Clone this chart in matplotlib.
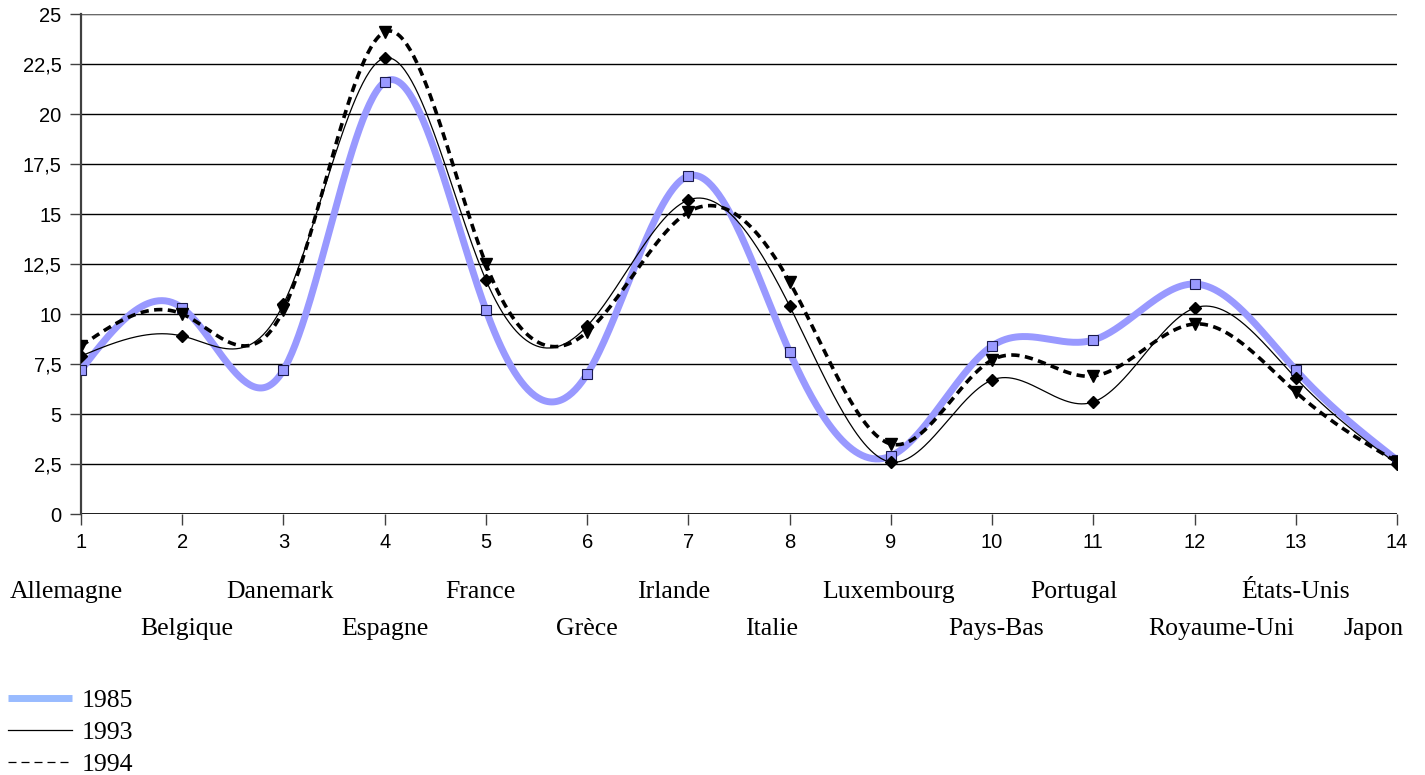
import numpy as np
import matplotlib
matplotlib.use("Agg")
import matplotlib.pyplot as plt
from matplotlib.lines import Line2D
from matplotlib.ticker import FuncFormatter, MultipleLocator

# ---------------- data ----------------
positions = list(range(1, 15))
countries = ["Allemagne", "Belgique", "Danemark", "Espagne", "France", "Grèce", "Irlande",
             "Italie", "Luxembourg", "Pays-Bas", "Portugal", "Royaume-Uni", "États-Unis", "Japon"]
series_labels = ["1985", "1993", "1994"]
values_1985 = [7.2, 10.3, 7.2, 21.6, 10.2, 7.0, 16.9, 8.1, 2.9, 8.4, 8.7, 11.5, 7.2, 2.7]
values_1993 = [7.9, 8.9, 10.5, 22.8, 11.7, 9.4, 15.7, 10.4, 2.6, 6.7, 5.6, 10.3, 6.8, 2.5]
values_1994 = [8.4, 10.0, 10.2, 24.1, 12.5, 9.1, 15.1, 11.6, 3.5, 7.7, 6.9, 9.5, 6.1, 2.6]

# label layout (horizontal nudge in px)
label_dx_px = [-15, 5, -3, 0, -6, 0, -15, -18, -2, 4, -19, 27, 0, -23]


def natural_spline(x, y, n=60):
    x = np.asarray(x, float)
    y = np.asarray(y, float)
    k = len(x)
    h = np.diff(x)
    A = np.zeros((k, k))
    b = np.zeros(k)
    A[0, 0] = 1
    A[-1, -1] = 1
    for i in range(1, k - 1):
        A[i, i - 1] = h[i - 1]
        A[i, i] = 2 * (h[i - 1] + h[i])
        A[i, i + 1] = h[i]
        b[i] = 6 * ((y[i + 1] - y[i]) / h[i] - (y[i] - y[i - 1]) / h[i - 1])
    M = np.linalg.solve(A, b)
    xs, ys = [], []
    for i in range(k - 1):
        t = np.linspace(x[i], x[i + 1], n, endpoint=(i == k - 2))
        a = x[i + 1] - t
        c = t - x[i]
        s = (M[i] * a ** 3 + M[i + 1] * c ** 3) / (6 * h[i]) \
            + (y[i] / h[i] - M[i] * h[i] / 6) * a \
            + (y[i + 1] / h[i] - M[i + 1] * h[i] / 6) * c
        xs.append(t)
        ys.append(s)
    return np.concatenate(xs), np.concatenate(ys)


W, H = 1425, 775
fig = plt.figure(figsize=(W / 100, H / 100), dpi=100)
ax = fig.add_axes([81 / W, 1 - 514 / H, 1316 / W, 500 / H])

blue = "#9999FF"

# 1985
sx, sy = natural_spline(positions, values_1985)
ax.plot(sx, sy, color=blue, lw=5, solid_capstyle="butt", zorder=3)
ax.plot(positions, values_1985, ls="none", marker="s", ms=6.8, mfc=blue,
        mec="#1a1a4d", mew=0.8, zorder=6)

# 1993
sx, sy = natural_spline(positions, values_1993)
ax.plot(sx, sy, color="black", lw=0.9, zorder=4)
ax.plot(positions, values_1993, ls="none", marker="D", ms=6, mfc="black",
        mec="black", zorder=7)

# 1994
sx, sy = natural_spline(positions, values_1994)
ax.plot(sx, sy, color="black", lw=2.6, ls=(0, (2.3, 1.5)), zorder=5)
ax.plot(positions, values_1994, ls="none", marker="v", ms=8.5, mfc="black",
        mec="black", zorder=8)

ax.set_xlim(1, 14)
ax.set_ylim(0, 25)
ax.set_xticks(positions)
ax.yaxis.set_major_locator(MultipleLocator(2.5))
ax.yaxis.set_major_formatter(FuncFormatter(lambda v, p: f"{v:g}".replace(".", ",")))

ax.grid(axis="y", color="black", lw=1.0, zorder=1)
ax.grid(axis="x", visible=False)
for s in ["top", "right", "bottom"]:
    ax.spines[s].set_visible(False)
ax.spines["left"].set_color("#404040")
ax.spines["left"].set_linewidth(1.6)
ax.axhline(0, color="black", lw=1.2, zorder=2)
ax.axhline(25, color="#808080", lw=1.2, zorder=2)
ax.tick_params(axis="both", direction="out", length=8, width=1, color="#404040",
               labelsize=14.5, pad=6)
for lab in ax.get_xticklabels() + ax.get_yticklabels():
    lab.set_fontfamily("Liberation Sans")

# country labels, two staggered rows
for i, (pos, name) in enumerate(zip(positions, countries)):
    row = i % 2
    dy_px = -84 if row == 0 else -121
    ax.annotate(name, xy=(pos, 0), xycoords=ax.get_xaxis_transform(),
                xytext=(label_dx_px[i] * 0.72, dy_px * 0.72), textcoords="offset points",
                ha="center", va="baseline", fontsize=18.5, family="Liberation Serif",
                annotation_clip=False)

# legend
handles = [
    Line2D([], [], color="#99BBFF", lw=5, solid_capstyle="butt"),
    Line2D([], [], color="black", lw=0.9),
    Line2D([], [], color="black", lw=0.9, ls=(0, (6.4, 4.0))),
]
fig.legend(handles, series_labels, loc="upper left", bbox_to_anchor=(8 / W, 1 - 689 / H),
           frameon=False, borderpad=0, borderaxespad=0, handlelength=2.5,
           handletextpad=0.35, labelspacing=0.36,
           prop={"family": "Liberation Serif", "size": 18.5})

fig.savefig("out.png", dpi=100)
